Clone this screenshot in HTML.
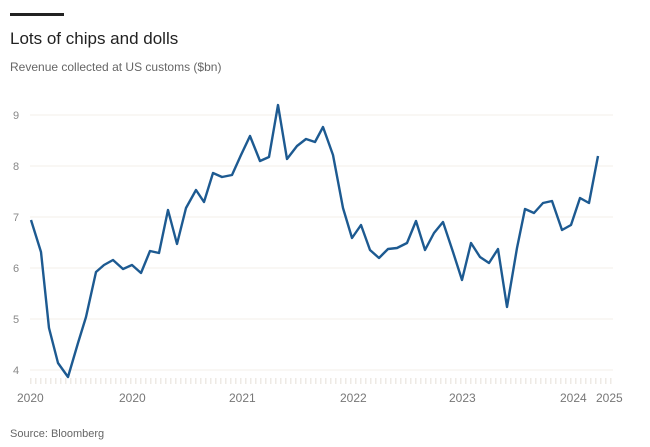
<!DOCTYPE html>
<html><head><style>
body{margin:0;background:#fff;}
svg{display:block;font-family:"Liberation Sans",sans-serif;}
</style></head><body>
<svg width="650" height="447" viewBox="0 0 650 447">
<rect x="10" y="13" width="54" height="3" fill="#222"/>
<text x="10" y="44" font-size="17" fill="#222">Lots of chips and dolls</text>
<text x="10" y="71" font-size="12" fill="#666">Revenue collected at US customs ($bn)</text>
<g stroke="#f3efe9" stroke-width="1">
<line x1="30" y1="115" x2="613" y2="115"/>
<line x1="30" y1="166" x2="613" y2="166"/>
<line x1="30" y1="217" x2="613" y2="217"/>
<line x1="30" y1="268" x2="613" y2="268"/>
<line x1="30" y1="319" x2="613" y2="319"/>
<line x1="30" y1="370" x2="613" y2="370"/>
</g>
<line x1="30" y1="381" x2="613" y2="381" stroke="#eeeae4" stroke-width="6" stroke-dasharray="1.5 3.5"/>
<g font-size="11" fill="#888">
<text x="13" y="119">9</text><text x="13" y="170">8</text><text x="13" y="221">7</text>
<text x="13" y="272">6</text><text x="13" y="323">5</text><text x="13" y="374">4</text>
</g>
<g font-size="12" fill="#777">
<text x="17" y="402">2020</text><text x="119" y="402">2020</text><text x="229" y="402">2021</text>
<text x="340" y="402">2022</text><text x="449" y="402">2023</text><text x="560" y="402">2024</text><text x="596" y="402">2025</text>
</g>
<text x="10" y="437" font-size="11" fill="#666">Source: Bloomberg</text>
<polyline fill="none" stroke="#1d5a91" stroke-width="2.4" stroke-linejoin="round" points="31,220 41,252 49,328 58,363 68,377 78,343 86,317 96,272 104,265 113,260 123,269 132,265 141,273 150,251 159,253 168,210 177,244 186,208 196,190 204,202 213,173 222,177 232,175 241,155 250,136 260,161 269,157 278,105 287,159 297,146 306,139 315,142 323,127 333,155 343,208 352,238 361,225 370,250 379,258 388,249 397,248 407,243 416,221 425,250 434,233 443,222 453,252 462,280 471,243 480,257 489,263 498,249 507,307 517,248 525,209 534,213 543,203 552,201 562,230 571,225 580,198 589,203 598,156"/>
</svg>
</body></html>
